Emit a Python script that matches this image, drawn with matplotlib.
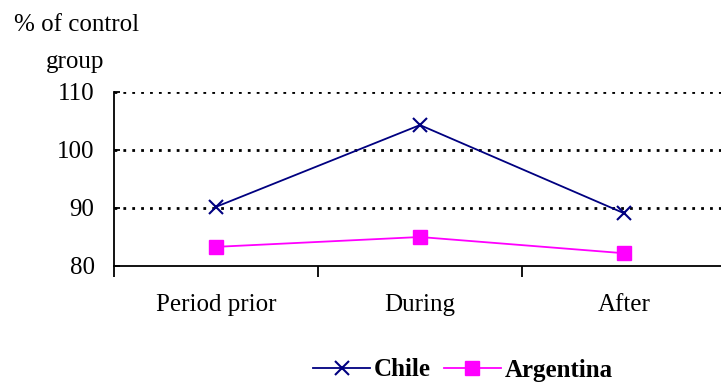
import matplotlib
matplotlib.use("Agg")
import matplotlib.pyplot as plt
from matplotlib.ticker import FixedLocator

categories = ["Period prior", "During", "After"]
chile = [90.2, 104.3, 89.1]
argentina = [83.3, 85.0, 82.2]
yticks = [80, 90, 100, 110]

plt.rcParams['font.family'] = ['Liberation Serif', 'DejaVu Serif']

fig = plt.figure(figsize=(7.21, 3.83), dpi=100)
ax = fig.add_axes([114/721, 117/383, 612/721, 174/383])

x = list(range(len(categories)))
ax.plot(x, chile, color='#000080', lw=1.3, marker='x', ms=10, mew=1.5, label='Chile')
ax.plot(x, argentina, color='#FF00FF', lw=1.3, marker='s', ms=10, label='Argentina')

ax.set_xlim(-0.5, 2.5)
ax.set_ylim(80, 110)
ax.set_yticks(yticks)
for v in yticks[1:]:
    ax.axhline(v, color='black', lw=2, ls=(0, (1, 2.2)), zorder=0)

ax.set_xticks(x)
ax.set_xticklabels(categories, fontsize=18)
ax.xaxis.set_minor_locator(FixedLocator([-0.5, 0.5, 1.5, 2.5]))
ax.tick_params(axis='x', which='major', length=0, pad=20)
ax.tick_params(axis='x', which='minor', length=8, width=1.3, direction='out', color='black')
ax.tick_params(axis='y', length=4, width=1.3, direction='in', pad=14, labelsize=18)

for s in ['top', 'right']:
    ax.spines[s].set_visible(False)
for s in ['left', 'bottom']:
    ax.spines[s].set_linewidth(1.3)

fig.text(77/721, 1 - 25/383, "% of control", fontsize=18, ha='center', va='center')
fig.text(75/721, 1 - 62/383, "group", fontsize=18, ha='center', va='center')

leg = fig.legend(loc='center', bbox_to_anchor=(463/721, 1 - 370/383), ncol=2,
                 frameon=False, prop={'weight': 'bold', 'size': 18},
                 handlelength=2.3, columnspacing=0.5, handletextpad=0.15)

fig.savefig("out.png", dpi=100)
